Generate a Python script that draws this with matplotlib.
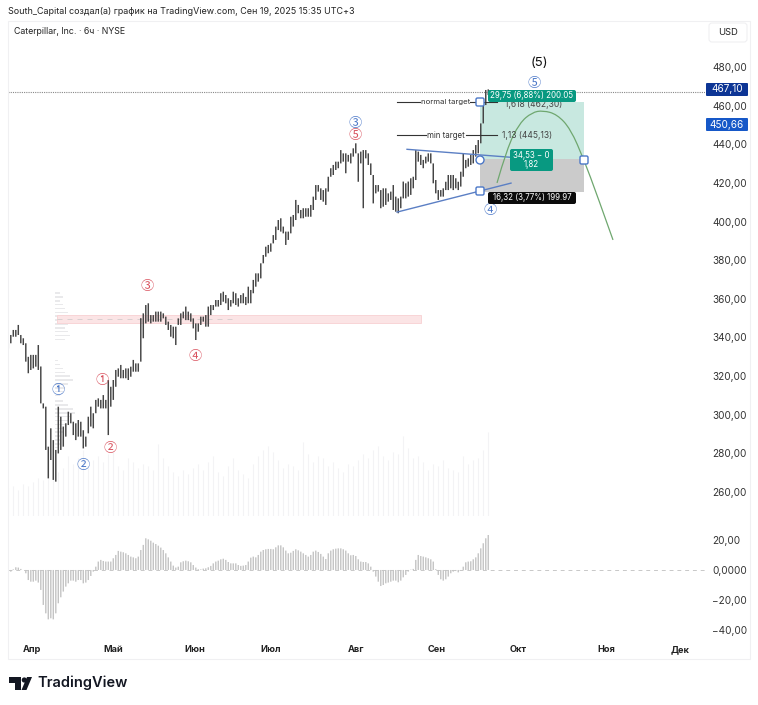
import matplotlib
matplotlib.use('Agg')
import matplotlib.pyplot as plt
from matplotlib.patches import Rectangle, Polygon, Circle, FancyBboxPatch, PathPatch
from matplotlib.path import Path

W, H = 758, 705
plt.rcParams['font.family'] = ['Inter', 'DejaVu Sans']

# price bars, low and high per 6h bar
bar_low = [334.4,337,340.4,340.4,341.3,337,336.1,327.5,321.5,323.2,324,324.9,323.2,305.9,303.3,281.8,267.1,276.6,266.3,265.4,
           280,281.8,283.5,288.7,294.7,295.6,289.5,286.9,288.7,288.7,282.6,283.5,290.4,293.9,293,300.8,304.2,303.3,303.3,303.3,
           289.5,304.2,307.7,314.5,319.7,318.9,318.9,318.9,318,319.7,322.3,322.3,322.3,327.5,339.6,347.3,348.2,347.3,348.2,348.2,
           348.2,348.2,349.9,346.5,343.9,340.4,339.6,336.1,346.5,346.5,349.9,349,349,348.2,344.7,338.7,343,346.5,348.2,345.6,
           345.6,351.6,354.2,356,356,356.8,358.5,357.7,354.2,356,357.7,356.8,356,357.7,357.7,356.8,357.7,
           357.7,362.9,366.3,368.9,370.6,378.4,381.8,383.6,384.4,388.7,390.5,395.6,394.8,393.9,387.9,390.5,393.9,397.4,400.8,404.3,
           401.7,401.7,402.5,402.5,402.5,406,411.2,415.5,411.2,410.3,408.6,415.5,423.2,424.1,426.7,427.6,430.1,431,425,431,
           430.1,433.6,435.3,420.6,430.1,406.9,432.7,429.3,424.1,409.4,414.6,415.5,406.9,407.7,408.6,410.3,411.2,406,405.1,404.3,
           406.9,412,412,412.9,413.8,417.2,421.5,
           431,429.3,427.6,430.1,431,430.1,419.8,414.6,411.2,412.9,412.9,416.3,416.3,417.2,416.3,417.2,416.3,418.1,423.2,427.6,
           428.4,429.3,430.1,433.6,435.3,440.5,450.8,460.3,465.5]
bar_high = [337,341.3,343.9,343.9,346.5,341.3,339.6,337,330,331,331,331,336.1,325,305.9,304.2,283.5,293,286.9,281.8,
            304.2,299,293.9,295.6,301.6,300.8,296.4,295.6,297.3,296.4,292,288.7,299,304.2,300.8,307.7,308.5,307.7,310.2,307.7,
            318,314.5,318,323.2,324,325.8,323.2,324,324,324.9,328.4,326.6,326.6,350,352.5,356.8,357.7,351.6,351.6,353.4,
            353.4,353.4,352.5,350.8,348.2,346.5,345.6,345.6,349.9,352.5,353.4,356,353.4,352.5,349.9,347.3,347.3,350.8,350.8,351.6,
            356,356.8,356.8,359.4,359.4,362.9,363.7,362,360.3,359.4,363.7,362.9,360.3,362,362.9,361,366.3,
            364.6,369.8,373.2,373.2,378.4,382.7,387,387.9,388.7,393,397.4,400.8,401.7,397.4,394.8,394.8,402.5,403.4,411.2,408.6,
            406,406.9,406.9,406.9,408.6,412.9,418.9,418.9,417.2,416.3,417.2,423.2,427.6,429.3,431,431,437,435.3,435.3,434.5,
            435.3,437.9,440.5,435.3,436.2,437,437,435.3,430.1,424.1,418.9,418.9,416.3,417.2,417.2,414.6,415.5,418.9,412.9,412,
            412.9,420.7,419.8,420.7,422.4,423.2,437,
            436.2,434.5,431.9,433.6,435.3,435.3,430.1,421.5,416.3,416.3,417.2,420.6,424.1,424.1,424.1,422.4,420.6,425.8,435.3,431.9,
            432.7,434.5,437,439.6,442.2,450.8,460.3,468.1,468.4]

# oscillator histogram, one value per bar
osc_values = [-3.3,-1.1,0.4,1.8,1.6,0.7,0,-2.2,-6.7,-7.8,-7.8,-7.1,-8.4,-13.3,-23.3,-28.9,-32.9,-32.2,-32.9,-28.9,
              -22.2,-18.2,-14.4,-11.1,-8.9,-7.1,-7.1,-7.8,-6.7,-6.7,-8.9,-8.4,-6.7,-4,-1.1,2.2,5.6,6.7,6,5.6,
              5.6,5.6,7.8,10,12.7,12.2,11.8,11.1,10,8.9,8.4,7.8,8.9,13.3,16.7,21.1,20.4,19.5,18.2,17.3,
              16.2,14.9,13.3,11.1,8.4,5.6,2.9,1.6,2.2,5.1,5.8,6.2,5.8,5.1,3.3,1.6,0.5,0.4,0.9,1.1,
              1.8,2.7,4.4,5.6,6.2,7.1,7.5,6.7,5.3,4.4,4.4,4.4,3.3,2.7,2.9,3.3,5.6,8.2,8.9,8.4,
              10,12.2,13.3,13.8,14,14,13.8,15.1,16.4,16.4,15.1,12.9,11.1,11.5,12.7,13.8,13.1,12.2,11.1,10,
              8.9,10,12.2,12.9,12,10.7,8.9,7.3,11.1,12.9,13.8,14.2,14.4,14.4,13.8,12.9,11.1,9.8,10,9.3,
              7.1,5.6,5.3,5.3,4.4,2.2,-1.1,-4.4,-7.8,-10.7,-10,-8.9,-8.4,-7.8,-7.1,-7.1,-8.2,-7.1,-4.9,-3.3,
              -1.1,0.2,0.7,6.7,10,9.3,8.9,8.4,7.8,7.1,5.6,0.5,-3.3,-6.2,-7.1,-6.2,-4.4,-2.2,-1.1,-0.7,
              -1.6,-0.4,2.2,5.1,5.6,5.8,7.1,8.4,11.1,14.4,17.8,21.1,23.3]

# volume, one value every second bar
volume = [28,30,26,32,30,34,38,36,42,40,44,48,60,52,58,66,50,56,60,54,62,64,50,46,58,54,48,52,50,46,72,58,50,44,40,46,42,48,
          52,46,54,60,44,40,50,58,46,42,38,52,60,66,70,64,56,48,52,50,46,74,62,54,60,58,50,54,48,44,52,50,56,62,58,66,70,60,
          56,64,62,80,68,58,60,54,46,52,50,56,48,46,44,60,52,56,58,66,84]

# volume profile rows
profile_prices = [363,361,359,357,355,353,351,349,347,345,343,341,339,
                  328,326,324,322,320,318,316,314,312,310,
                  307,305,303,301,299,297,295,293,291,289,287,285,283]
profile_widths = [2,3,2,3,4,5,6,9,5,4,5,6,4,
                  1,2,3,4,6,7,5,4,3,2,
                  3,5,7,8,6,5,4,3,3,2,2,2,1]

price_ticks = [480,460,440,420,400,380,360,340,320,300,280,260]
price_labels = ['480,00','460,00','440,00','420,00','400,00','380,00','360,00','340,00','320,00','300,00','280,00','260,00']
osc_ticks = [20,0,-20,-40]
osc_labels = ['20,00','0,0000','−20,00','−40,00']
month_pos = [9.5,41.9,74.7,105.1,139.1,171.5,203.9,239.1,268.7]
month_labels = ['Апр','Май','Июн','Июл','Авг','Сен','Окт','Ноя','Дек']

# elliott wave marks
blue_x = [19.9,29.9,138.7,192.7,210.3]
blue_y = [312.8,273.5,451,405.5,471.7]
blue_text = ['①','②','③','④','⑤']
red_x = [37.5,40.7,55.5,74.7,138.7]
red_y = [318,282.3,366.6,330.4,444.3]
red_text = ['①','②','③','④','⑤']

# projected path, control points of the drawn curve
path_x = [195.5,199.5,204.5,209.5,213.9,219.5,224.9,230.3,235.5,241.9]
path_y = [420,438,451,456.5,457.5,455.5,448,431.9,413.8,390.5]


def px_axes(fig, left, top, right, bottom):
    return fig.add_axes([left/W, 1-bottom/H, (right-left)/W, (bottom-top)/H])

def smooth_path(xs, ys):
    # quadratic segments through the midpoints of the control polygon
    pts = list(zip(xs, ys))
    verts = [pts[0]]
    codes = [Path.MOVETO]
    for a, b in zip(pts[1:-1], pts[2:]):
        verts += [a, ((a[0]+b[0])/2, (a[1]+b[1])/2)]
        codes += [Path.CURVE3, Path.CURVE3]
    verts[-1] = pts[-1]
    return Path(verts, codes)

fig = plt.figure(figsize=(W/100, H/100), dpi=100, facecolor='white')

ax_vol = px_axes(fig, 8, 416, 705, 516)
ax = px_axes(fig, 8, 21, 705, 517)
ax_osc = px_axes(fig, 8, 520, 705, 642)
x0, x1 = -0.12, 278.7

ax_vol.vlines(range(0, 2*len(volume), 2), 0, volume, color='#f3f3f5', lw=0.8)
ax_vol.set_xlim(x0, x1)
ax_vol.set_ylim(0, 100)
ax_vol.axis('off')

ax.patch.set_alpha(0)
ax.set_xlim(x0, x1)
ax.set_ylim(247.1, 503.8)
for s in ax.spines.values():
    s.set_visible(False)
ax.set_xticks([])
ax.yaxis.tick_right()
ax.set_yticks(price_ticks, price_labels, fontsize=7.2, color='#333333')
ax.tick_params(axis='y', length=0, pad=5)

# volume profile
ax.barh(profile_prices, profile_widths, height=0.8, left=18.7, color='#e9e9eb', lw=0, zorder=1)

# red zone
ax.add_patch(Rectangle((19.5, 347.5), 145.5, 4.1, fc='#fbe4e5', ec='#f8d5d7', lw=0.7, zorder=1))
ax.plot([19.5, 90], [349.5, 349.5], color='#d3cccc', lw=0.6, ls=(0, (6, 6)), zorder=2)

# position tool
ax.add_patch(Rectangle((188.7, 432.4), 41.6, 29.5, fc='#c8e8e0', ec='none', zorder=1))
ax.add_patch(Rectangle((188.7, 415.3), 41.6, 17.1, fc='#cbcbcb', ec='none', zorder=1))

# last price line
ax.axhline(467.1, color='#888888', lw=0.8, ls=(0, (1, 1)), zorder=2)

ax.vlines(range(len(bar_low)), bar_low, bar_high, color='#444444', lw=1.05, zorder=3, snap=False)

# wedge
ax.plot([159.5, 200.7], [437.4, 433.3], color='#5b7fc4', lw=1, zorder=4)
ax.plot([155.5, 201.1], [404.9, 419.9], color='#5b7fc4', lw=1, zorder=4)

ax.add_patch(PathPatch(smooth_path(path_x, path_y), fc='none', ec='#6fa76f', lw=0.9, zorder=4))

# fib levels
ax.plot([155.3, 164.5], [461.9, 461.9], color='#333333', lw=0.8, zorder=4)
ax.plot([184.5, 195.5], [461.9, 461.9], color='#333333', lw=0.8, zorder=4)
ax.plot([155.3, 167], [444.8, 444.8], color='#333333', lw=0.8, zorder=4)
ax.plot([183, 195.5], [444.8, 444.8], color='#333333', lw=0.8, zorder=4)
ax.text(175, 461.9, 'normal target', fontsize=5.6, color='#333333', ha='center', va='center', zorder=5)
ax.text(175, 444.8, 'min target', fontsize=5.7, color='#333333', ha='center', va='center', zorder=5)
ax.text(198.5, 460.6, '1,618 (462,30)', fontsize=6.1, color='#444444', va='center', zorder=1.5)
ax.text(197.5, 444.8, '1,13 (445,13)', fontsize=6.1, color='#444444', va='center', zorder=5)

ax.text(212.3, 482.2, '(5)', fontsize=9.5, color='#111111', ha='center', va='center', zorder=5)

for x, y, t in zip(blue_x, blue_y, blue_text):
    ax.text(x, y, t, fontsize=9.5, color='#4c78c8', ha='center', va='center', zorder=5,
            family=['Noto Sans CJK SC', 'DejaVu Sans'])
for x, y, t in zip(red_x, red_y, red_text):
    ax.text(x, y, t, fontsize=9.5, color='#d9525e', ha='center', va='center', zorder=5,
            family=['Noto Sans CJK SC', 'DejaVu Sans'])

ax_osc.axhline(0, color='#c8c8c8', lw=0.7, ls=(0, (4, 4)), zorder=1)
ax_osc.vlines(range(len(osc_values)), 0, osc_values, color='#c4c4c4', lw=1.0, zorder=2, snap=False)
ax_osc.set_xlim(x0, x1)
ax_osc.set_ylim(-48, 33.3)
for s in ax_osc.spines.values():
    s.set_visible(False)
ax_osc.patch.set_alpha(0)
ax_osc.yaxis.tick_right()
ax_osc.set_yticks(osc_ticks, osc_labels, fontsize=7.2, color='#333333')
ax_osc.set_xticks(month_pos, month_labels, fontsize=6.6, fontweight='bold', color='#222222')
ax_osc.tick_params(axis='y', length=0, pad=5)
ax_osc.tick_params(axis='x', length=0, pad=2)

# overlay in pixel coordinates for chrome and drawing handles
ov = fig.add_axes([0, 0, 1, 1])
ov.set_xlim(0, W)
ov.set_ylim(H, 0)
ov.axis('off')
ov.patch.set_alpha(0)

ov.add_patch(Rectangle((7.5, 20.5), 742, 638.5, fc='none', ec='#f0f0f2', lw=0.8))
ov.add_patch(FancyBboxPatch((711, 25), 34, 15, boxstyle='round,pad=2,rounding_size=3', fc='white', ec='#f0f0f2', lw=0.8))
ov.text(728.5, 32.5, 'USD', fontsize=6.8, color='#222222', ha='center', va='center')
ov.text(8, 11.5, 'South_Capital создал(а) график на TradingView.com, Сен 19, 2025 15:35 UTC+3', fontsize=6.45,
        color='#222222', va='center')
ov.text(14, 32, 'Caterpillar, Inc. · 6ч · NYSE', fontsize=6.35, color='#222222', va='center')

def tag(x, y, w, h, text, fc, fs=5.7, color='white', round_px=2):
    ov.add_patch(FancyBboxPatch((x+round_px, y+round_px), w-2*round_px, h-2*round_px,
                                boxstyle=f'round,pad={round_px},rounding_size={round_px}', fc=fc, ec='none',
                                mutation_aspect=1))
    ov.text(x+w/2, y+h/2, text, fontsize=fs, color=color, ha='center', va='center', linespacing=1.05)

tag(706, 83, 42, 13, '467,10', '#0d3595', fs=7.2, round_px=1)
tag(706, 118, 42, 13, '450,66', '#1658c8', fs=7.2, round_px=1)
tag(488, 90, 88, 12, '29,75 (6,88%) 200.05', '#089981')
tag(510, 149, 43, 22, '34,53 − 0\n1,82', '#089981')
tag(488, 192, 88, 12, '16,32 (3,77%) 199.97', '#0b0b0b')

ov.add_patch(Circle((480, 160), 4, fc='white', ec='#4c78c8', lw=1))
for hx, hy in [(480, 102), (584, 160), (480, 191)]:
    ov.add_patch(FancyBboxPatch((hx-3, hy-3), 6, 6, boxstyle='round,pad=1,rounding_size=1.5', fc='white', ec='#4c78c8', lw=1))

# logo
ov.add_patch(Polygon([(9, 677), (21, 677), (21, 690), (15, 690), (15, 683), (9, 683)], fc='#131722', ec='none'))
ov.add_patch(Circle((24.3, 680), 2.6, fc='#131722', ec='none'))
ov.add_patch(Polygon([(27, 677), (32, 677), (26.5, 690), (21.5, 690)], fc='#131722', ec='none'))
ov.text(37, 683, 'TradingView', fontsize=10.5, fontweight='semibold', color='#131722', va='center')

fig.savefig('out.png', dpi=100, facecolor='white')
